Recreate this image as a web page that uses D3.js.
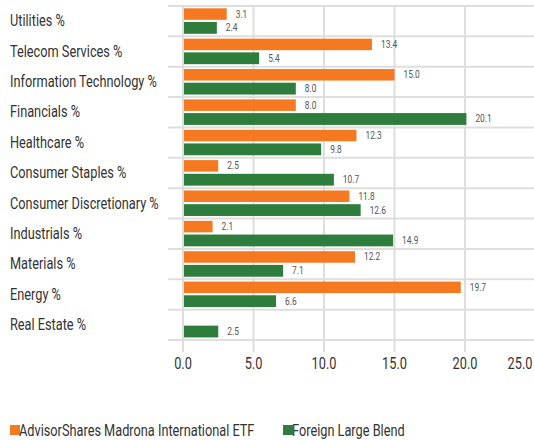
<!DOCTYPE html>
<html>
<head>
<meta charset="utf-8">
<script src="https://cdn.jsdelivr.net/npm/d3@7"></script>
<style>
  body { margin: 0; background: #fff; }
  text { font-family: Roboto, "Liberation Sans", sans-serif; }
</style>
</head>
<body>
<div id="chart"></div>
<script>
// sectors top to bottom
const sectors = [
  "Utilities %", "Telecom Services %", "Information Technology %", "Financials %",
  "Healthcare %", "Consumer Staples %", "Consumer Discretionary %", "Industrials %",
  "Materials %", "Energy %", "Real Estate %"
];
const fundValues = [3.1, 13.4, 15.0, 8.0, 12.3, 2.5, 11.8, 2.1, 12.2, 19.7, null];
const categoryValues = [2.4, 5.4, 8.0, 20.1, 9.8, 10.7, 12.6, 14.9, 7.1, 6.6, 2.5];
const seriesNames = ["AdvisorShares Madrona International ETF", "Foreign Large Blend"];
const xTicks = [0, 5, 10, 15, 20, 25];

const colors = ["#f47920", "#2e7d3c"];
const width = 534, height = 440;
const fs = 16;

const svg = d3.select("#chart").append("svg")
  .attr("width", width)
  .attr("height", height);

// the original font is a condensed one, so squeeze Roboto horizontally
const probe = svg.append("text").attr("font-size", fs).text("Information Technology %");
const sx = 147 / probe.node().getComputedTextLength();
probe.remove();

function put(sel, fx, fy) {
  return sel.attr("transform", (d, i) => `translate(${fx(d, i)},${fy(d, i)}) scale(${sx},1)`);
}

const x = d3.scaleLinear().domain([0, 25]).range([183, 535.5]);
const y = d3.scaleBand().domain(sectors).range([6, 340]);
const bw = y.bandwidth();

// grid: vertical lines
svg.append("g").selectAll("line")
  .data(xTicks)
  .join("line")
  .attr("x1", d => x(d)).attr("x2", d => x(d))
  .attr("y1", 6).attr("y2", 352)
  .attr("stroke", "#dedede").attr("stroke-width", 2);

// grid: horizontal separators
const seps = sectors.map(s => y(s)).concat([340]);
svg.append("g").selectAll("line")
  .data(seps)
  .join("line")
  .attr("x1", 168).attr("x2", width)
  .attr("y1", d => d).attr("y2", d => d)
  .attr("stroke", "#dedede").attr("stroke-width", 2);

const rows = sectors.map((s, i) => ({ s, vals: [fundValues[i], categoryValues[i]] }));
const series = [0, 1].map(k => rows.map(r => ({ s: r.s, v: r.vals[k], k })));

series.forEach((data, k) => {
  const g = svg.append("g");
  const off = k === 0 ? 2.3 : 16;
  const h = k === 0 ? 11.5 : 11.8;
  const valid = data.filter(d => d.v != null);
  g.selectAll("rect")
    .data(valid)
    .join("rect")
    .attr("x", x(0) + 1)
    .attr("y", d => y(d.s) + off)
    .attr("width", d => x(d.v) - x(0) - 1)
    .attr("height", h)
    .attr("fill", colors[k]);
  put(g.selectAll("text")
    .data(valid)
    .join("text")
    .attr("font-size", 10.5)
    .attr("fill", "#555")
    .text(d => d.v.toFixed(1)),
    d => x(d.v) + 9, d => y(d.s) + off + h / 2 + 3.5);
});

// category labels
put(svg.append("g").selectAll("text")
  .data(sectors)
  .join("text")
  .attr("font-size", fs)
  .attr("fill", "#333")
  .text(d => d),
  () => 10, d => y(d) + bw / 2 + 5.2);

// x tick labels
put(svg.append("g").selectAll("text")
  .data(xTicks)
  .join("text")
  .attr("text-anchor", "middle")
  .attr("font-size", fs)
  .attr("fill", "#333")
  .text(d => d.toFixed(1)),
  d => Math.min(x(d), 520), () => 368.5);

// legend
const legendX = [10, 283];
const lg = svg.append("g").selectAll("g")
  .data(seriesNames)
  .join("g")
  .attr("transform", (d, i) => `translate(${legendX[i]},425)`);
lg.append("rect")
  .attr("width", 10).attr("height", 10)
  .attr("fill", (d, i) => colors[i]);
put(lg.append("text")
  .attr("font-size", fs)
  .attr("fill", "#333")
  .text(d => d),
  () => 9, () => 11);
</script>
</body>
</html>
